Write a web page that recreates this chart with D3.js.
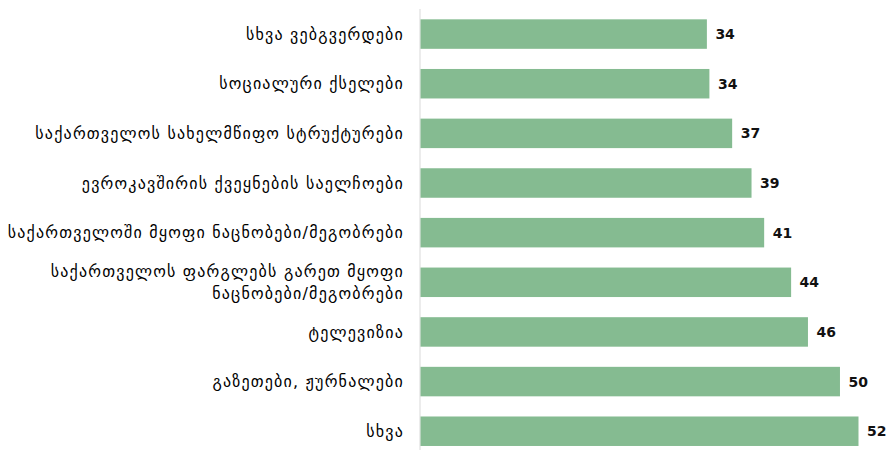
<!DOCTYPE html>
<html><head><meta charset="utf-8">
<script src="https://cdn.jsdelivr.net/npm/d3@7"></script>
<style>body{margin:0;background:#fff}svg{display:block}</style>
</head><body>
<svg id="chart" width="894" height="450"></svg>
<script>
const categories = [
  ["სხვა ვებგვერდები"],
  ["სოციალური ქსელები"],
  ["საქართველოს სახელმწიფო სტრუქტურები"],
  ["ევროკავშირის ქვეყნების საელჩოები"],
  ["საქართველოში მყოფი ნაცნობები/მეგობრები"],
  ["საქართველოს ფარგლებს გარეთ მყოფი", "ნაცნობები/მეგობრები"],
  ["ტელევიზია"],
  ["გაზეთები, ჟურნალები"],
  ["სხვა"]
];
const values = [34.0, 34.3, 37.0, 39.3, 40.8, 44.0, 46.0, 49.8, 52.0];
const labels = ["34", "34", "37", "39", "41", "44", "46", "50", "52"];

const svg = d3.select("#chart");
const x0 = 420;
const x = d3.scaleLinear().domain([0, 52]).range([x0, 858]);
const y = d3.scaleBand().domain(d3.range(categories.length)).range([9.4, 455.9]).paddingInner(0.406).paddingOuter(0.2);

svg.append("line").attr("x1", x0).attr("x2", x0).attr("y1", 9).attr("y2", 450)
  .attr("stroke", "#d9d9d9").attr("stroke-width", 1);

svg.selectAll("rect.bar").data(values).enter().append("rect")
  .attr("class", "bar")
  .attr("x", x(0) + 0.5)
  .attr("y", (d, i) => y(i))
  .attr("width", d => x(d) - x(0))
  .attr("height", y.bandwidth())
  .attr("fill", "#85bb91");

svg.selectAll("text.val").data(values).enter().append("text")
  .attr("class", "val")
  .attr("x", d => x(d) + 9)
  .attr("y", (d, i) => y(i) + y.bandwidth() / 2)
  .attr("dy", "0.36em")
  .attr("font-family", "DejaVu Sans, Verdana, sans-serif")
  .attr("font-weight", "bold")
  .attr("font-size", 14)
  .attr("fill", "#111")
  .text((d, i) => labels[i]);

const cat = svg.selectAll("text.cat").data(categories).enter().append("text")
  .attr("class", "cat")
  .attr("text-anchor", "end")
  .attr("font-family", "DejaVu Sans, sans-serif")
  .attr("font-size", 16)
  .attr("letter-spacing", 1.2)
  .attr("fill", "#000")
  .attr("transform", (d, i) => `translate(404,${y(i) + y.bandwidth() / 2})`);
cat.each(function(lines) {
  const t = d3.select(this);
  const lh = 22;
  lines.forEach((ln, k) => {
    t.append("tspan").attr("x", 0)
      .attr("y", (k - (lines.length - 1) / 2) * lh)
      .attr("dy", "0.36em")
      .text(ln);
  });
});
</script>
</body></html>
